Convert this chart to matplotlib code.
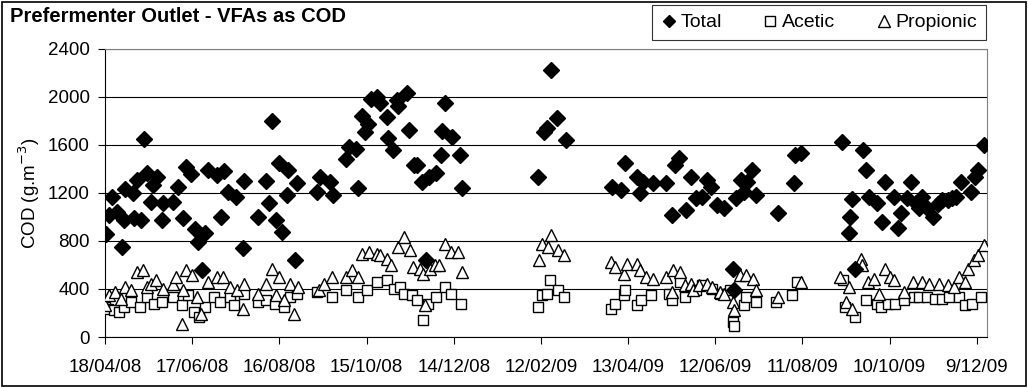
"""
Prefermenter outlet VFA concentrations expressed as COD, 2008-2009.
"""

import numpy as np
import matplotlib
matplotlib.use("Agg")
import matplotlib.pyplot as plt
from matplotlib.lines import Line2D
from matplotlib.patches import Rectangle

plt.rcParams["font.family"] = ["Liberation Sans", "DejaVu Sans"]

START = np.datetime64("2008-04-18")

# ── Sample data (days after 18/04/08, COD in g/m3) ─────────────
total_day = [1, 3, 5, 8, 12, 13, 14, 19, 20, 22, 25, 27, 29, 32, 33, 36, 39, 40,
             47, 50, 54, 56, 59, 62, 64, 67, 69, 71, 77, 80, 82, 85, 90, 95, 96,
             105, 111, 113, 115, 118, 120, 122, 125, 126, 131, 132, 146, 148,
             155, 157, 166, 168, 173, 174, 177, 179, 181, 183, 187, 189, 194,
             195, 198, 201, 202, 208, 209, 213, 215, 218, 221, 223, 228, 231,
             232, 234, 239, 244, 246,
             298, 302, 304, 307, 311, 317,
             349, 355, 358, 366, 368, 370, 377, 386, 390, 392, 395, 400, 403,
             407, 411, 414, 417, 421, 426, 432, 433, 434, 438, 440, 442, 445,
             448, 463, 474, 475, 479,
             507, 512, 513, 514, 516, 522, 524, 526, 531, 535, 537, 543, 546,
             548, 552, 555, 558, 560, 562, 566, 570, 573, 576, 580, 583, 586,
             589, 596, 599, 601, 605]
total_cod = [858, 1017, 1167, 1042, 750, 975, 1233, 1200, 992, 1308, 975, 1650,
             1367, 1125, 1267, 1333, 975, 1117, 1125, 1250, 992, 1417, 1358,
             900, 792, 558, 867, 1392, 1350, 1000, 1383, 1208, 1167, 742, 1300,
             1000, 1300, 1117, 1800, 975, 1450, 875, 1183, 1392, 642, 1283,
             1208, 1333, 1292, 1183, 1483, 1583, 1567, 1242, 1842, 1708, 1775,
             1983, 2000, 1950, 1833, 1658, 1558, 1975, 1925, 2033, 1725, 1433,
             1433, 1292, 642, 1333, 1367, 1517, 1717, 1950, 1667, 1517, 1242,
             1333, 1708, 1742, 2225, 1825, 1642,
             1250, 1225, 1450, 1333, 1200, 1292, 1283, 1283, 1017, 1433, 1492,
             1058, 1333, 1158, 1167, 1308, 1250, 1100, 1075, 567, 392, 1158,
             1308, 1208, 1292, 1392, 1183, 1033, 1283, 1517, 1533,
             1625, 867, 1000, 1150, 567, 1558, 1392, 1167, 1117, 958, 1292,
             1167, 908, 1033, 1158, 1292, 1117, 1077, 1167, 1075, 1000, 1107,
             1142, 1137, 1158, 1167, 1292, 1208, 1333, 1392, 1600]

acetic_day = [0, 2, 6, 10, 13, 18, 24, 29, 34, 39, 47, 53, 57, 61, 65, 69, 75,
              79, 86, 89, 96, 105, 111, 117, 123, 127, 132, 146, 156, 166, 174,
              180, 187, 194, 199, 203, 206, 211, 215, 219, 222, 228, 234, 238,
              245,
              298, 301, 304, 306, 312, 316,
              348, 351, 357, 358, 366, 369, 376, 388, 390, 396, 399, 407, 411,
              418, 423, 430, 432, 433, 440, 441, 448, 462, 473, 476,
              508, 509, 516, 524, 531, 534, 539, 544, 550, 557, 560, 566, 571,
              576, 581, 588, 592, 597, 603]
acetic_cod = [250, 236, 222, 208, 250, 291, 250, 333, 278, 291, 333, 264, 347,
              208, 167, 250, 333, 291, 333, 264, 361, 291, 305, 278, 250, 333,
              361, 375, 333, 389, 333, 389, 458, 472, 403, 417, 361, 347, 305,
              139, 278, 333, 417, 361, 278,
              250, 347, 361, 472, 389, 333,
              236, 278, 347, 389, 264, 305, 347, 361, 305, 458, 333, 389, 430,
              403, 361, 389, 125, 90, 264, 333, 291, 291, 347, 458,
              472, 250, 167, 305, 278, 250, 278, 278, 305, 333, 333, 333, 319,
              319, 333, 333, 264, 278, 333]

propionic_day = [0, 3, 7, 11, 14, 18, 22, 26, 29, 32, 35, 40, 47, 49, 54, 53,
                 56, 60, 63, 66, 71, 77, 81, 86, 91, 95, 96, 105, 111, 115, 120,
                 118, 123, 127, 130, 133, 147, 151, 156, 166, 170, 174, 177, 182,
                 187, 189, 194, 197, 202, 206, 210, 212, 217, 219, 220, 224, 227,
                 230, 234, 238, 243, 246,
                 299, 301, 305, 307, 312, 316,
                 348, 351, 357, 359, 366, 368, 372, 377, 386, 391, 396, 390, 399,
                 403, 405, 409, 414, 418, 423, 426, 432, 433, 437, 441, 446, 448,
                 463, 479,
                 506, 510, 514, 512, 520, 521, 525, 529, 533, 537, 540, 543, 550,
                 556, 562, 567, 574, 580, 584, 588, 592, 594, 598, 601, 605]
propionic_cod = [264, 347, 375, 319, 417, 389, 541, 555, 417, 444, 472, 403,
                 444, 500, 389, 111, 555, 514, 333, 194, 458, 500, 500, 417, 389,
                 236, 444, 361, 444, 569, 500, 347, 305, 444, 194, 417, 389, 444,
                 500, 500, 555, 500, 694, 708, 694, 680, 653, 597, 750, 833, 722,
                 583, 569, 528, 264, 569, 597, 597, 778, 708, 708, 541,
                 639, 778, 750, 847, 722, 680,
                 625, 583, 528, 611, 611, 555, 500, 486, 500, 555, 541, 375, 430,
                 444, 389, 430, 444, 417, 375, 361, 291, 222, 514, 514, 486, 389,
                 333, 458,
                 500, 291, 236, 417, 653, 597, 458, 486, 361, 569, 500, 472, 375,
                 458, 458, 444, 444, 430, 417, 500, 458, 569, 639, 680, 764]

tick_days = np.arange(0, 601, 60)


def to_dates(days):
    return START + np.array(days, dtype="timedelta64[D]")


def date_label(d):
    d = d.astype(object)
    return f"{d.day}/{d.month:02d}/{d.strftime('%y')}"


fig = plt.figure(figsize=(10.28, 3.88), dpi=100)
ax = fig.add_axes([0.1021, 0.1314, 0.858, 0.7431])

ax.plot(to_dates(acetic_day), acetic_cod, ls="none", marker="s", ms=7,
        mfc="white", mec="black", mew=1.0, zorder=3)
ax.plot(to_dates(propionic_day), propionic_cod, ls="none", marker="^", ms=9,
        mfc="white", mec="black", mew=1.0, zorder=4)
ax.plot(to_dates(total_day), total_cod, ls="none", marker="D", ms=8,
        mfc="black", mec="black", zorder=5)

ax.set_xlim(START, START + np.timedelta64(607, "D"))
ax.set_ylim(0, 2400)
ax.set_yticks(np.arange(0, 2401, 400))
ticks = to_dates(tick_days)
ax.set_xticks(ticks)
ax.set_xticklabels([date_label(t) for t in ticks])
ax.tick_params(axis="both", labelsize=13.5, direction="out", length=5,
               width=0.8, colors="black")
ax.tick_params(axis="x", pad=11)
ax.tick_params(axis="y", pad=6)
ax.grid(axis="y", color="black", lw=0.8)
ax.set_axisbelow(True)

for side in ("top", "right"):
    ax.spines[side].set_color("#808080")
ax.spines["left"].set_color("black")
ax.spines["bottom"].set_color("black")

ax.set_ylabel("COD (g.m$^{-3}$)", fontsize=13.5, labelpad=4)

fig.text(10 / 1028, 1 - 17 / 388, "Prefermenter Outlet - VFAs as COD",
         fontsize=14.5, fontweight="bold", va="center", ha="left")

handles = [
    Line2D([], [], ls="none", marker="D", ms=6, mfc="black", mec="black"),
    Line2D([], [], ls="none", marker="s", ms=7, mfc="white", mec="black"),
    Line2D([], [], ls="none", marker="^", ms=8, mfc="white", mec="black"),
]
leg = fig.legend(handles, ["Total", "Acetic", "Propionic"], ncol=3,
                 loc="upper left", mode="expand",
                 bbox_to_anchor=(652 / 1028, 1 - 40 / 388, 334 / 1028, 35 / 388),
                 fontsize=14, frameon=True, fancybox=False, edgecolor="black",
                 handletextpad=0.2, columnspacing=1.5, handlelength=0.8,
                 borderpad=0.45, borderaxespad=0)
leg.get_frame().set_linewidth(0.8)

fig.patches.append(Rectangle((0.002, 0.006), 0.996, 0.99,
                             transform=fig.transFigure, fill=False,
                             edgecolor="black", lw=1.2))

fig.savefig("out.png", dpi=100)
